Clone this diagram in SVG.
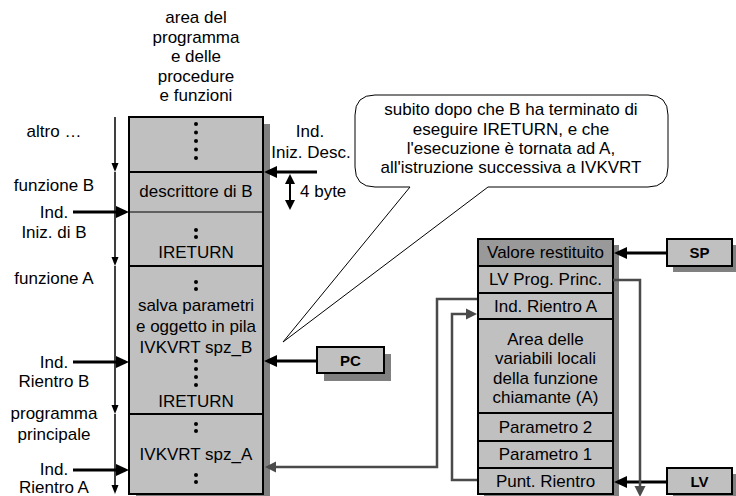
<svg xmlns="http://www.w3.org/2000/svg" width="736" height="496" viewBox="0 0 736 496">
  <defs>
    <style>
      .t { font-family: "Liberation Sans", Arial, sans-serif; font-size: 17px; fill: #000; text-anchor: middle; }
      .tl { text-anchor: start; }
      .b { font-weight: bold; font-size: 15px; }
      .cell { fill: #c0c0c0; stroke: #000; stroke-width: 2; }
      .dark { fill: #999999; }
      .shadow { fill: #808080; }
      .dot { fill: #000; }
      .thick { stroke: #000; stroke-width: 3; fill: none; }
      .thin { stroke: #000; stroke-width: 1.5; fill: none; }
      .gray { stroke: #4a4a4a; stroke-width: 2.5; fill: none; }
    </style>
    <!-- arrowheads: the reference point is the base of the head, so lines stop short of the tip -->
    <marker id="ah" markerUnits="userSpaceOnUse" markerWidth="14" markerHeight="14" refX="0" refY="7" orient="auto">
      <path d="M0,1 L13,7 L0,13 z" fill="#000"/>
    </marker>
    <marker id="ahs" markerUnits="userSpaceOnUse" markerWidth="10" markerHeight="10" refX="0" refY="4" orient="auto">
      <path d="M0,0.5 L9,4 L0,7.5 z" fill="#000"/>
    </marker>
    <marker id="ahm" markerUnits="userSpaceOnUse" markerWidth="12" markerHeight="12" refX="0" refY="5" orient="auto-start-reverse">
      <path d="M0,0 L10,5 L0,10 z" fill="#000"/>
    </marker>
    <marker id="ahg" markerUnits="userSpaceOnUse" markerWidth="13" markerHeight="13" refX="0" refY="6" orient="auto">
      <path d="M0,0.5 L11,6 L0,11.5 z" fill="#4a4a4a"/>
    </marker>
  </defs>

  <!-- heading of the code memory column -->
  <g id="heading">
    <text class="t" x="196" y="23">area del</text>
    <text class="t" x="196" y="42.5">programma</text>
    <text class="t" x="196" y="62">e delle</text>
    <text class="t" x="196" y="81.5">procedure</text>
    <text class="t" x="196" y="101">e funzioni</text>
  </g>

  <!-- code memory column -->
  <g id="code-area">
    <rect class="shadow" x="136" y="124" width="134" height="380"/>
    <rect class="cell" x="129" y="117" width="134" height="377"/>
    <line x1="129" y1="172" x2="263" y2="172" stroke="#000" stroke-width="2"/>
    <line x1="129" y1="212" x2="263" y2="212" stroke="#000" stroke-width="1"/>
    <line x1="129" y1="266" x2="263" y2="266" stroke="#000" stroke-width="2"/>
    <line x1="129" y1="414" x2="263" y2="414" stroke="#000" stroke-width="2"/>
    <!-- other code -->
    <circle class="dot" cx="196" cy="124" r="2"/>
    <circle class="dot" cx="196" cy="132.5" r="2"/>
    <circle class="dot" cx="196" cy="141" r="2"/>
    <circle class="dot" cx="196" cy="149.5" r="2"/>
    <circle class="dot" cx="196" cy="158" r="2"/>
    <!-- function B -->
    <text class="t" x="196" y="197">descrittore di B</text>
    <circle class="dot" cx="196" cy="230" r="2"/>
    <circle class="dot" cx="196" cy="237" r="2"/>
    <text class="t" x="196" y="258">IRETURN</text>
    <!-- function A -->
    <circle class="dot" cx="196" cy="282" r="2"/>
    <circle class="dot" cx="196" cy="289" r="2"/>
    <text class="t" x="196" y="311">salva parametri</text>
    <text class="t" x="196" y="332">e oggetto in pila</text>
    <text class="t" x="196" y="353">IVKVRT spz_B</text>
    <circle class="dot" cx="196" cy="361" r="2"/>
    <circle class="dot" cx="196" cy="369" r="2"/>
    <circle class="dot" cx="196" cy="377" r="2"/>
    <circle class="dot" cx="196" cy="385" r="2"/>
    <text class="t" x="196" y="407">IRETURN</text>
    <!-- main program -->
    <circle class="dot" cx="196" cy="424" r="2"/>
    <circle class="dot" cx="196" cy="431" r="2"/>
    <text class="t" x="196" y="460">IVKVRT spz_A</text>
    <circle class="dot" cx="196" cy="475" r="2"/>
    <circle class="dot" cx="196" cy="482" r="2"/>
  </g>

  <!-- section labels -->
  <g id="labels-left">
    <text class="t" x="54" y="137">altro …</text>
    <text class="t" x="54" y="191">funzione B</text>
    <text class="t" x="54" y="218">Ind.</text>
    <text class="t" x="54" y="238">Iniz. di B</text>
    <text class="t" x="54" y="284">funzione A</text>
    <text class="t" x="54" y="368">Ind.</text>
    <text class="t" x="54" y="387">Rientro B</text>
    <text class="t" x="54" y="419">programma</text>
    <text class="t" x="54" y="440">principale</text>
    <text class="t" x="54" y="475">Ind.</text>
    <text class="t" x="54" y="493">Rientro A</text>
  </g>

  <g id="label-desc">
    <text class="t" x="310" y="137">Ind.</text>
    <text class="t" x="311" y="158">Iniz. Desc.</text>
    <text class="t tl" x="300" y="197">4 byte</text>
  </g>

  <!-- speech bubble -->
  <g id="callout">
    <path d="M375,95 H648 Q668,95 668,115 V167 Q668,187 648,187 H488 L283,342 L410,187 H375 Q355,187 355,167 V115 Q355,95 375,95 Z" fill="#fff" stroke="#000" stroke-width="1"/>
    <text class="t" x="511" y="115">subito dopo che B ha terminato di</text>
    <text class="t" x="511" y="135">eseguire IRETURN, e che</text>
    <text class="t" x="511" y="154">l'esecuzione è tornata ad A,</text>
    <text class="t" x="511" y="173">all'istruzione successiva a IVKVRT</text>
  </g>

  <!-- stack -->
  <g id="stack">
    <rect class="shadow" x="484" y="245" width="135" height="260"/>
    <rect class="cell dark" x="478" y="239" width="135" height="27"/>
    <rect class="cell" x="478" y="266" width="135" height="27"/>
    <rect class="cell" x="478" y="293" width="135" height="26"/>
    <rect class="cell" x="478" y="319" width="135" height="94"/>
    <rect class="cell" x="478" y="413" width="135" height="28"/>
    <rect class="cell" x="478" y="441" width="135" height="27"/>
    <rect class="cell" x="478" y="468" width="135" height="26"/>
    <text class="t" x="545.5" y="258">Valore restituito</text>
    <text class="t" x="545.5" y="285">LV Prog. Princ.</text>
    <text class="t" x="545.5" y="312">Ind. Rientro A</text>
    <text class="t" x="545.5" y="345">Area delle</text>
    <text class="t" x="545.5" y="364">variabili locali</text>
    <text class="t" x="545.5" y="384">della funzione</text>
    <text class="t" x="545.5" y="403">chiamante (A)</text>
    <text class="t" x="545.5" y="433">Parametro 2</text>
    <text class="t" x="545.5" y="460">Parametro 1</text>
    <text class="t" x="545.5" y="487">Punt. Rientro</text>
  </g>

  <!-- registers -->
  <g id="reg-sp">
    <rect class="shadow" x="673" y="245" width="65" height="27"/>
    <rect class="cell" x="667" y="239" width="65" height="27"/>
    <text class="t b" x="699.5" y="258">SP</text>
  </g>
  <g id="reg-lv">
    <rect class="shadow" x="673" y="474" width="65" height="26"/>
    <rect class="cell" x="667" y="468" width="65" height="26"/>
    <text class="t b" x="699.5" y="487">LV</text>
  </g>
  <g id="reg-pc">
    <rect class="shadow" x="324" y="354" width="67" height="27"/>
    <rect class="cell" x="317" y="347" width="67" height="26"/>
    <text class="t b" x="350.5" y="366">PC</text>
  </g>

  <g id="connectors">
    <!-- execution flow down the code column -->
    <line class="thin" x1="115" y1="117" x2="115" y2="163" marker-end="url(#ahs)"/>
    <line class="thin" x1="115" y1="172" x2="115" y2="257" marker-end="url(#ahs)"/>
    <line class="thin" x1="115" y1="266" x2="115" y2="405" marker-end="url(#ahs)"/>
    <line class="thin" x1="115" y1="414" x2="115" y2="485" marker-end="url(#ahs)"/>
    <!-- address pointers -->
    <line class="thick" x1="73" y1="212" x2="116" y2="212" marker-end="url(#ah)"/>
    <line class="thick" x1="73" y1="362" x2="116" y2="362" marker-end="url(#ah)"/>
    <line class="thick" x1="73" y1="470" x2="116" y2="470" marker-end="url(#ah)"/>
    <line class="thick" x1="317" y1="172" x2="277" y2="172" marker-end="url(#ah)"/>
    <line class="thick" x1="317" y1="361" x2="277" y2="361" marker-end="url(#ah)"/>
    <line class="thick" x1="667" y1="253" x2="627" y2="253" marker-end="url(#ah)"/>
    <line class="thick" x1="667" y1="482" x2="627" y2="482" marker-end="url(#ah)"/>
    <!-- 4 byte span -->
    <line x1="290" y1="184" x2="290" y2="200" stroke="#000" stroke-width="2" marker-start="url(#ahm)" marker-end="url(#ahm)"/>
    <!-- stack links -->
    <polyline class="gray" points="613,280 640,280 640,486" marker-end="url(#ahg)"/>
    <polyline class="gray" points="477,299 437,299 437,467 276,467" marker-end="url(#ahg)"/>
    <polyline class="gray" points="477,480 452,480 452,314 466,314" marker-end="url(#ahg)"/>
  </g>
</svg>
